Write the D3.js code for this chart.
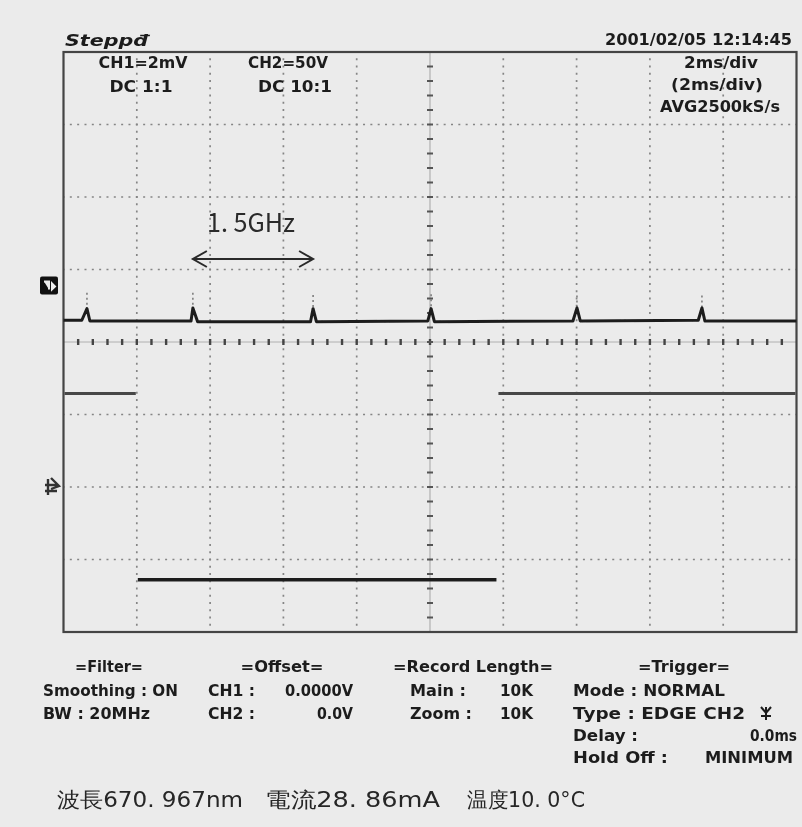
<!DOCTYPE html>
<html lang="ja">
<head>
<meta charset="utf-8">
<title>Oscilloscope capture</title>
<script src="https://d3js.org/d3.v7.min.js"></script>
<style>
body { margin: 0; background: #ebebeb; }
text { font-family: "DejaVu Sans", sans-serif; }
</style>
</head>
<body>
<div id="chart"></div>
<script>
// time axis: 2 ms/div, 10 div; vertical: 8 div
var timeDomain = [-10, 10];
var divDomain = [-4, 4];

// CH1 trace (time ms, divisions)
var ch1Trace = [
  [-10.00, 0.30], [-9.50, 0.30], [-9.36, 0.46], [-9.28, 0.29],
  [-6.52, 0.29], [-6.47, 0.47], [-6.34, 0.28],
  [-3.26, 0.28], [-3.19, 0.46], [-3.10, 0.28],
  [-0.06, 0.29], [0.03, 0.46], [0.12, 0.28],
  [3.90, 0.29], [4.01, 0.47], [4.10, 0.29],
  [7.32, 0.30], [7.42, 0.47], [7.50, 0.29], [10.00, 0.29]
];
// faint overshoot above each pulse (time ms, top in div)
var ch1Pulses = [-9.36, -6.47, -3.19, 0.03, 4.01, 7.42];
var ch1PulseTops = [0.68, 0.68, 0.65, 0.66, 0.64, 0.64];

// CH2 levels (start ms, end ms, level div)
var ch2Segments = [
  [-10.00, -8.00, -0.71],
  [-8.00, 1.84, -3.28],
  [1.84, 10.00, -0.71]
];

var headerLeft = ["CH1=2mV", "DC  1:1", "CH2=50V", "DC  10:1"];
var headerRight = ["2ms/div", "(2ms/div)", "AVG2500kS/s"];
var stamp = "2001/02/05  12:14:45";
var status = "Steppđ";
var annotation = "1. 5GHz";

var tableHeads = ["=Filter=", "=Offset=", "=Record Length=", "=Trigger="];
var filterRows = ["Smoothing : ON", "BW : 20MHz"];
var offsetKeys = ["CH1 :", "CH2 :"];
var offsetVals = ["0.0000V", "0.0V"];
var recordKeys = ["Main :", "Zoom :"];
var recordVals = ["10K", "10K"];
var triggerRows = ["Mode : NORMAL", "Type : EDGE CH2"];
var triggerKeys = ["Delay :", "Hold Off :"];
var triggerVals = ["0.0ms", "MINIMUM"];
var footer = ["波長670. 967nm", "電流28. 86mA", "温度10. 0°C"];

var w = 802, h = 827;
var svg = d3.select("#chart").append("svg")
  .attr("width", w).attr("height", h);

svg.append("rect").attr("width", w).attr("height", h).attr("fill", "#ebebeb");

var defs = svg.append("defs");
defs.append("filter").attr("id", "soft")
  .attr("filterUnits", "userSpaceOnUse")
  .attr("x", -1000).attr("y", -1000).attr("width", 3000).attr("height", 3000)
  .append("feGaussianBlur").attr("stdDeviation", 0.45);

var x = d3.scaleLinear().domain(timeDomain).range([63.5, 796.5]);
var y = d3.scaleLinear().domain(divDomain).range([632, 52]);

var screen = svg.append("g");

// grid
var vGrid = d3.range(-8, 9, 2).filter(function (d) { return d !== 0; });
var hGrid = d3.range(-3, 4, 1).filter(function (d) { return d !== 0; });

screen.selectAll("line.vg").data(vGrid).enter().append("line")
  .attr("x1", function (d) { return x(d); }).attr("x2", function (d) { return x(d); })
  .attr("y1", y(4)).attr("y2", y(-4))
  .attr("stroke", "#858585").attr("stroke-width", 1.7)
  .attr("stroke-dasharray", "2 5.25").attr("stroke-dashoffset", 1);

screen.selectAll("line.hg").data(hGrid).enter().append("line")
  .attr("x1", x(-10)).attr("x2", x(10))
  .attr("y1", function (d) { return y(d); }).attr("y2", function (d) { return y(d); })
  .attr("stroke", "#858585").attr("stroke-width", 1.7)
  .attr("stroke-dasharray", "2 5.33").attr("stroke-dashoffset", 1);

// centre axes with ticks
screen.append("line")
  .attr("x1", x(-10)).attr("x2", x(10)).attr("y1", y(0)).attr("y2", y(0))
  .attr("stroke", "#b0b0b0").attr("stroke-width", 1);
screen.append("line")
  .attr("x1", x(0)).attr("x2", x(0)).attr("y1", y(4)).attr("y2", y(-4))
  .attr("stroke", "#b0b0b0").attr("stroke-width", 1.2);

var xTicks = d3.range(-9.6, 9.7, 0.4);
screen.selectAll("line.xt").data(xTicks).enter().append("line")
  .attr("x1", function (d) { return x(d); }).attr("x2", function (d) { return x(d); })
  .attr("y1", y(0) - 3).attr("y2", y(0) + 3)
  .attr("stroke", "#444").attr("stroke-width", 2.4);

var yTicks = d3.range(-3.8, 3.9, 0.2);
screen.selectAll("line.yt").data(yTicks).enter().append("line")
  .attr("x1", x(0) - 3).attr("x2", x(0) + 3)
  .attr("y1", function (d) { return y(d); }).attr("y2", function (d) { return y(d); })
  .attr("stroke", "#555").attr("stroke-width", 2);

// frame
screen.append("rect")
  .attr("x", x(-10)).attr("y", y(4))
  .attr("width", x(10) - x(-10)).attr("height", y(-4) - y(4))
  .attr("fill", "none").attr("stroke", "#444").attr("stroke-width", 2.2);

// CH1 faint overshoots
screen.selectAll("line.pk").data(ch1Pulses).enter().append("line")
  .attr("x1", function (d) { return x(d); }).attr("x2", function (d) { return x(d); })
  .attr("y1", function (d, i) { return y(ch1PulseTops[i]); })
  .attr("y2", y(0.46))
  .attr("stroke", "#777").attr("stroke-width", 1.5)
  .attr("stroke-dasharray", "2 3");

// CH1 trace
var line = d3.line()
  .x(function (d) { return x(d[0]); })
  .y(function (d) { return y(d[1]); });

screen.append("path").datum(ch1Trace)
  .attr("d", line)
  .attr("fill", "none").attr("stroke", "#1e1e1e")
  .attr("stroke-width", 3).attr("stroke-linejoin", "round")
  .attr("filter", "url(#soft)");

// CH2 trace
screen.selectAll("line.ch2").data(ch2Segments).enter().append("line")
  .attr("x1", function (d) { return x(d[0]) + 1; })
  .attr("x2", function (d) { return x(d[1]) - 1; })
  .attr("y1", function (d) { return y(d[2]); })
  .attr("y2", function (d) { return y(d[2]); })
  .attr("stroke", function (d) { return d[2] < -2 ? "#1e1e1e" : "#474747"; })
  .attr("stroke-width", function (d) { return d[2] < -2 ? 3.4 : 2.8; })
  .attr("filter", "url(#soft)");

// channel markers
var m1 = svg.append("g").attr("transform", "translate(40," + (y(0.78) - 9) + ")");
m1.append("rect").attr("width", 18).attr("height", 18).attr("rx", 2).attr("fill", "#111");
m1.append("path").attr("d", "M4,5 L9,5 L9,13 M12,7 L15,10 L12,13 Z")
  .attr("stroke", "#eee").attr("stroke-width", 2).attr("fill", "#eee");

var m2 = svg.append("g").attr("transform", "translate(48," + (y(-2)) + ")")
  .attr("filter", "url(#soft)");
m2.append("path").attr("d", "M0,-8 L0,8 M-3,-2 L9,-2 M-3,4 L9,4 M3,-9 L11,-1 L3,2")
  .attr("stroke", "#333").attr("stroke-width", 2.4).attr("fill", "none");

// annotation: period between pulses
var ax1 = x(ch1Pulses[1]), ax2 = x(ch1Pulses[2]), ay = 259;
var arrow = svg.append("g").attr("stroke", "#2a2a2a").attr("stroke-width", 2)
  .attr("fill", "none").attr("filter", "url(#soft)");
arrow.append("line").attr("x1", ax1).attr("x2", ax2).attr("y1", ay).attr("y2", ay);
arrow.append("path").attr("d", "M" + (ax1 + 14) + "," + (ay - 8) + " L" + ax1 + "," + ay + " L" + (ax1 + 14) + "," + (ay + 8));
arrow.append("path").attr("d", "M" + (ax2 - 14) + "," + (ay - 8) + " L" + ax2 + "," + ay + " L" + (ax2 - 14) + "," + (ay + 8));

svg.append("text").attr("x", 207).attr("y", 232)
  .attr("textLength", 88).attr("lengthAdjust", "spacingAndGlyphs")
  .style("font-family", "'Noto Sans CJK JP', sans-serif")
  .style("font-size", "26px").attr("fill", "#2a2a2a")
  .attr("filter", "url(#soft)")
  .text(annotation);

// scope text helper
var txt = svg.append("g").attr("fill", "#1c1c1c").attr("filter", "url(#soft)")
  .style("font-weight", "bold").style("font-size", "15px");

function label(str, px, py, anchor, len) {
  var t = txt.append("text").attr("x", px).attr("y", py)
    .attr("text-anchor", anchor || "start").text(str);
  if (len) t.attr("textLength", len).attr("lengthAdjust", "spacingAndGlyphs");
  return t;
}

label(status, 65, 46, "start", 83).style("font-style", "italic").style("font-size", "16px");
label(stamp, 792, 45, "end", 187);

label(headerLeft[0], 143, 68, "middle", 89);
label(headerLeft[1], 141, 92, "middle", 63);
label(headerLeft[2], 288, 68, "middle", 80);
label(headerLeft[3], 295, 92, "middle", 74);

label(headerRight[0], 721, 68, "middle", 74);
label(headerRight[1], 717, 90, "middle", 92);
label(headerRight[2], 720, 112, "middle", 120);

// settings table
var rowY = [672, 696, 719, 741, 763];
label(tableHeads[0], 109, rowY[0], "middle", 68);
label(tableHeads[1], 282, rowY[0], "middle", 83);
label(tableHeads[2], 473, rowY[0], "middle", 160);
label(tableHeads[3], 684, rowY[0], "middle", 92);

label(filterRows[0], 43, rowY[1], "start", 135);
label(filterRows[1], 43, rowY[2], "start", 107);

label(offsetKeys[0], 208, rowY[1], "start", 47);
label(offsetKeys[1], 208, rowY[2], "start", 47);
label(offsetVals[0], 353, rowY[1], "end", 68);
label(offsetVals[1], 353, rowY[2], "end", 36);

label(recordKeys[0], 410, rowY[1], "start", 56);
label(recordKeys[1], 410, rowY[2], "start", 62);
label(recordVals[0], 533, rowY[1], "end", 33);
label(recordVals[1], 533, rowY[2], "end", 33);

label(triggerRows[0], 573, rowY[1], "start", 152);
label(triggerRows[1], 573, rowY[2], "start", 172);
label(triggerKeys[0], 573, rowY[3], "start", 65);
label(triggerKeys[1], 573, rowY[4], "start", 95);
label(triggerVals[0], 797, rowY[3], "end", 47);
label(triggerVals[1], 793, rowY[4], "end", 88);

// falling-edge trigger symbol after "CH2"
var trig = svg.append("g").attr("transform", "translate(766," + (rowY[2] - 6) + ")")
  .attr("stroke", "#1c1c1c").attr("stroke-width", 2).attr("fill", "none")
  .attr("filter", "url(#soft)");
trig.append("path").attr("d", "M-5,-6 L0,0 L5,-6 M0,-6 L0,7 M-5,3 L5,3");

// footer (wavelength, current, temperature)
var foot = svg.append("g").attr("fill", "#262626").attr("filter", "url(#soft)")
  .style("font-family", "'Noto Sans CJK JP', sans-serif")
  .style("font-weight", "500")
  .style("font-size", "21px");
var footX = [57, 265, 467], footW = [186, 175, 118];
foot.selectAll("text").data(footer).enter().append("text")
  .attr("x", function (d, i) { return footX[i]; })
  .attr("y", 807)
  .attr("textLength", function (d, i) { return footW[i]; })
  .attr("lengthAdjust", "spacingAndGlyphs")
  .text(function (d) { return d; });
</script>
</body>
</html>
